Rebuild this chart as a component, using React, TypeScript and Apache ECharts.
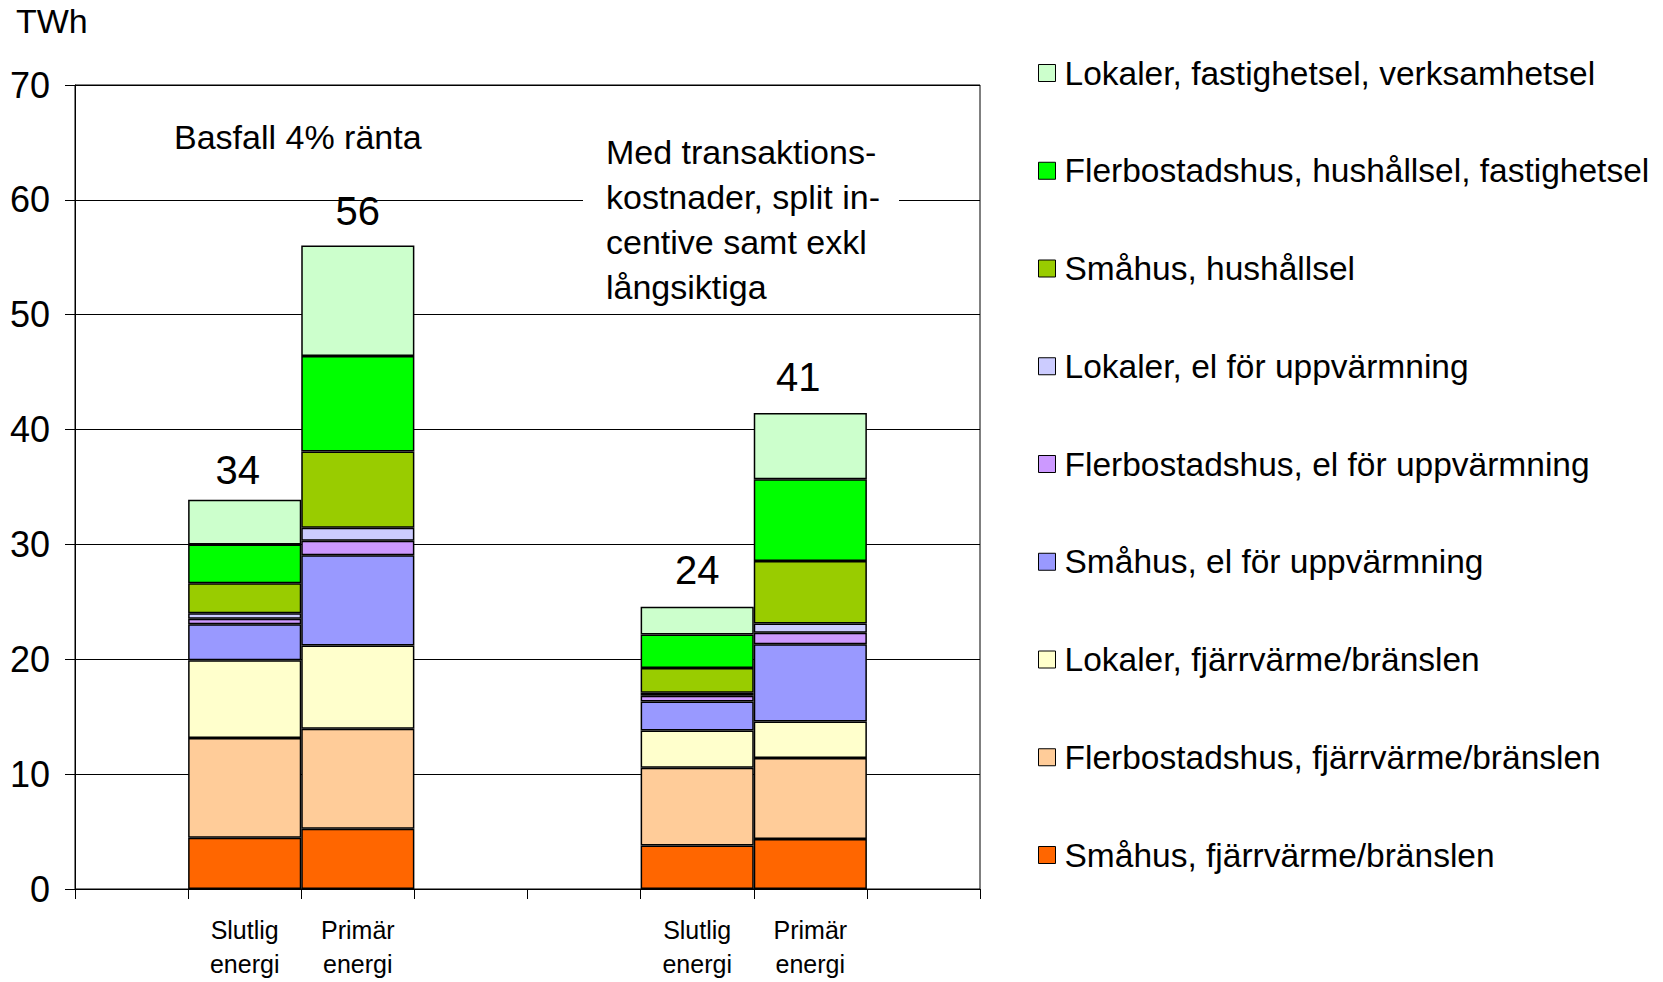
import React, { useEffect, useRef } from "react";
import * as echarts from "echarts";

const categories = ["", "Slutlig\nenergi", "Primär\nenergi", "", "", "Slutlig\nenergi", "Primär\nenergi", ""];
// positions of the four bars within the category list
const barSlots = [1, 2, 5, 6];

const seriesNames = [
  "Småhus, fjärrvärme/bränslen",
  "Flerbostadshus, fjärrvärme/bränslen",
  "Lokaler, fjärrvärme/bränslen",
  "Småhus, el för uppvärmning",
  "Flerbostadshus, el för uppvärmning",
  "Lokaler, el för uppvärmning",
  "Småhus, hushållsel",
  "Flerbostadshus, hushållsel, fastighetsel",
  "Lokaler, fastighetsel, verksamhetsel",
];
const seriesColors = ["#FF6600", "#FFCC99", "#FFFFCC", "#9999FF", "#CC99FF", "#CCCCFF", "#99CC00", "#00FF00", "#CCFFCC"];

// values for [Basfall Slutlig, Basfall Primär, Med trans. Slutlig, Med trans. Primär]
const smahusFjv = [4.46, 5.25, 3.79, 4.35];
const flerFjv = [8.69, 8.71, 6.76, 7.05];
const lokFjv = [6.76, 7.24, 3.24, 3.18];
const smahusEl = [3.15, 7.85, 2.54, 6.73];
const flerEl = [0.47, 1.28, 0.49, 1.0];
const lokEl = [0.47, 1.13, 0.27, 0.81];
const smahusHh = [2.62, 6.62, 2.16, 5.43];
const flerHh = [3.38, 8.33, 2.91, 7.12];
const lokFast = [3.88, 9.62, 2.42, 5.78];
const seriesValues = [smahusFjv, flerFjv, lokFjv, smahusEl, flerEl, lokEl, smahusHh, flerHh, lokFast];

const totalLabels = ["34", "56", "24", "41"];
// style: nudges of the total labels (px)
const totalLabelShift = [[-7, 2], [0, -2], [0, -5], [-12, -4]];

const yTicks = { min: 0, max: 70, interval: 10 };

export default function App() {
  const ref = useRef<HTMLDivElement>(null);
  useEffect(() => {
    if (!ref.current) return;
    const chart = echarts.init(ref.current, null, { renderer: "svg" });
    const font = "'Liberation Sans', Arial, sans-serif";

    const isTop = (si: number) => si === seriesNames.length - 1;
    const expand = (vals: number[], si: number) => {
      const arr: any[] = categories.map(() => "-");
      barSlots.forEach((slot, i) => {
        arr[slot] = isTop(si)
          ? { value: vals[i], label: { offset: totalLabelShift[i] } }
          : vals[i];
      });
      return arr;
    };

    const series: any[] = seriesNames.map((name, si) => ({
      name,
      type: "bar",
      stack: "total",
      barCategoryGap: "0%",
      data: expand(seriesValues[si], si),
      itemStyle: { color: seriesColors[si], borderColor: "#000", borderWidth: 1.5 },
      label: isTop(si)
        ? {
            show: true,
            position: "top",
            distance: 12,
            fontSize: 40,
            fontFamily: font,
            color: "#000",
            formatter: (p: any) => {
              const idx = barSlots.indexOf(p.dataIndex);
              return idx >= 0 ? totalLabels[idx] : "";
            },
          }
        : { show: false },
    }));

    chart.setOption({
      animation: false,
      backgroundColor: "#fff",
      grid: {
        left: 75,
        right: 683,
        top: 85,
        bottom: 93,
        show: true,
        borderColor: "#000",
        borderWidth: 1,
        backgroundColor: "transparent",
      },
      legend: {
        orient: "vertical",
        left: 1033,
        top: 50,
        data: [...seriesNames].reverse(),
        itemWidth: 17,
        itemHeight: 17,
        itemGap: 61.75,
        icon: "rect",
        itemStyle: { borderColor: "#000", borderWidth: 1 },
        textStyle: { fontSize: 33.5, fontFamily: font, color: "#000", lineHeight: 36, padding: [0, 0, 0, 4] },
        selectedMode: false,
      },
      xAxis: {
        type: "category",
        data: categories,
        boundaryGap: true,
        axisLine: { lineStyle: { color: "#000", width: 1 } },
        axisTick: { show: true, interval: 0, length: 10, lineStyle: { color: "#000" } },
        axisLabel: {
          interval: 0,
          fontSize: 25,
          lineHeight: 34,
          fontFamily: font,
          color: "#000",
          margin: 24,
        },
      },
      yAxis: {
        type: "value",
        min: yTicks.min,
        max: yTicks.max,
        interval: yTicks.interval,
        axisLine: { show: true, lineStyle: { color: "#000", width: 1 } },
        axisTick: { show: true, length: 10, lineStyle: { color: "#000" } },
        axisLabel: { fontSize: 36, fontFamily: font, color: "#000", margin: 25 },
        splitLine: { show: true, lineStyle: { color: "#000", width: 1 } },
      },
      graphic: [
        {
          type: "text",
          left: 16,
          top: 4,
          style: { text: "TWh", fontSize: 34, fontFamily: font, fill: "#000" },
        },
        {
          type: "text",
          left: 174,
          top: 120,
          style: { text: "Basfall 4% ränta", fontSize: 34, fontFamily: font, fill: "#000" },
        },
        {
          type: "rect",
          shape: { x: 583, y: 125, width: 316, height: 180 },
          style: { fill: "#fff" },
          z: 5,
        },
        {
          type: "text",
          left: 606,
          top: 129,
          z: 6,
          style: {
            text: "Med transaktions-\nkostnader, split in-\ncentive samt exkl\nlångsiktiga",
            fontSize: 34,
            lineHeight: 45,
            fontFamily: font,
            fill: "#000",
          },
        },
      ],
      series,
    });
    return () => chart.dispose();
  }, []);
  return <div ref={ref} style={{ position: "fixed", left: 0, top: 0, width: 1663, height: 982 }} />;
}
